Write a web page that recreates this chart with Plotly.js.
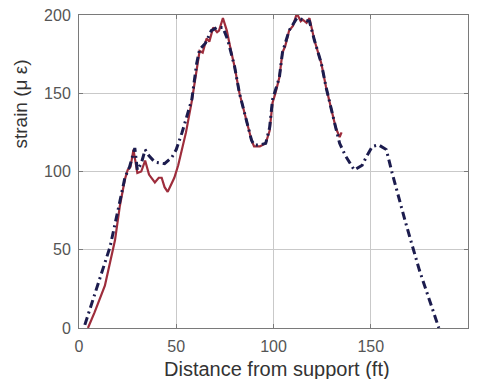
<!DOCTYPE html>
<html>
<head>
<meta charset="utf-8">
<script src="https://cdn.plot.ly/plotly-3.0.1.min.js"></script>
<style>
  html, body { margin: 0; padding: 0; background: #fff; }
  #chart { width: 481px; height: 379px; }
</style>
</head>
<body>
<div id="chart"></div>
<script>
// Measured strain along the girder (solid line)
const measuredX = [4.6, 8, 13.3, 18.5, 21, 23.6, 25, 26.5, 28, 30, 32, 34, 36, 39, 41, 42.5, 44, 45.6, 47.5, 49, 51, 53, 55, 58, 60.5, 62, 63.6, 65.6, 67, 69, 71, 72, 74, 76, 78, 80, 82.5, 86, 88.7, 90, 93, 96, 98, 99.5, 101, 103, 104.6, 106, 108, 110, 112, 114, 115, 117, 118.5, 121, 123, 124.6, 127, 129.7, 132, 134, 135];
const measuredY = [0, 10, 27, 56, 78, 95, 101, 103, 114, 99, 100, 107, 98, 93, 96, 96, 90, 87, 92, 96, 104, 114, 125, 145, 165, 177, 176, 185, 183, 192, 189, 190, 198, 190, 178, 167, 150, 133, 120, 116, 116, 118, 126, 144, 150, 160, 176, 180, 190, 193, 201, 196, 197, 195, 198, 184, 176, 169, 154, 139, 128, 122, 125];

// Predicted strain (dash-dot line)
const predictedX = [3, 10, 16, 20, 23.6, 26, 28.7, 30, 32, 34, 36, 39, 44, 47.7, 50, 53, 55.5, 58, 60.5, 62, 65, 68, 71, 74, 76.5, 80, 82.5, 86, 88.7, 90, 93, 96, 98, 99.5, 103, 104.6, 108, 112, 115, 118.5, 121, 124.6, 127, 129.7, 132, 134, 137, 141.5, 145.6, 148, 150.8, 154, 158, 161, 168, 175, 185];
const predictedY = [2, 29, 52, 75, 96, 103, 115, 101, 105, 114, 110, 106, 105, 109, 114, 125, 135, 146, 169, 178, 182, 190, 192, 192, 184, 167, 150, 133, 120, 117, 117, 118, 128, 146, 160, 176, 190, 198, 197, 196, 184, 169, 154, 139, 128, 118, 110, 101, 104, 110, 116, 117, 114, 99, 67, 37, 0];

const xTicks = [0, 50, 100, 150, 200];
const yTicks = [0, 50, 100, 150, 200];

const FONT = 'Liberation Sans, Arial, sans-serif';

const traces = [
  {
    x: measuredX, y: measuredY, type: 'scatter', mode: 'lines',
    line: { color: '#9e2d3c', width: 2.2 },
    hoverinfo: 'x+y'
  },
  {
    x: predictedX, y: predictedY, type: 'scatter', mode: 'lines',
    line: { color: '#1c1c4e', width: 3, dash: '8px,4px,2px,4px' },
    hoverinfo: 'x+y'
  }
];

const axisCommon = {
  showgrid: true, gridcolor: '#c9c9c9', gridwidth: 1,
  zeroline: false, showline: true, linecolor: '#7a7a7a', linewidth: 1,
  mirror: 'ticks', ticks: 'inside', ticklen: 4, tickcolor: '#7a7a7a',
  tickfont: { family: FONT, size: 16, color: '#555' }
};

const layout = {
  width: 481, height: 379,
  margin: { l: 79, r: 13, t: 15, b: 51 },
  paper_bgcolor: '#fff', plot_bgcolor: '#fff',
  showlegend: false,
  xaxis: Object.assign({}, axisCommon, {
    range: [0, 200], tickvals: xTicks, ticktext: xTicks.map(String),
    ticklabelstandoff: 4
  }),
  yaxis: Object.assign({}, axisCommon, {
    range: [0, 200], tickvals: yTicks, ticktext: yTicks.map(String),
    ticklabelstandoff: 4
  }),
  annotations: [
    {
      text: 'Distance from support (ft)',
      xref: 'paper', yref: 'paper', x: 0.508, y: -0.131,
      xanchor: 'center', yanchor: 'middle', showarrow: false,
      font: { family: FONT, size: 20, color: '#333' }
    },
    {
      text: 'strain (\u03bc \u03b5)', textangle: -90,
      xref: 'paper', yref: 'paper', x: -0.15, y: 0.716,
      xanchor: 'center', yanchor: 'middle', showarrow: false,
      font: { family: FONT, size: 19, color: '#333' }
    }
  ]
};

Plotly.newPlot('chart', traces, layout, { displayModeBar: false, staticPlot: true });
</script>
</body>
</html>
